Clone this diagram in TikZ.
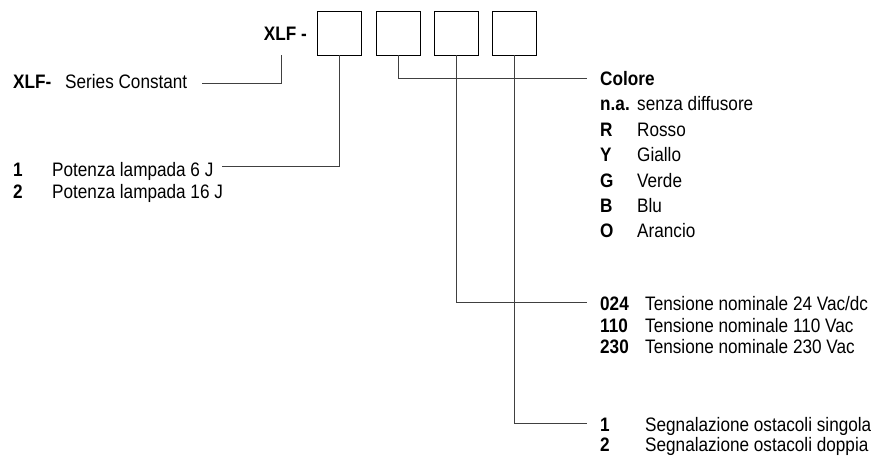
\documentclass[tikz,border=0pt]{standalone}
\usepackage{fontspec}
\setmainfont{Liberation Sans}[FakeStretch=0.88]
\begin{document}
\begin{tikzpicture}[x=1pt,y=-1pt,
  txt/.style={anchor=base west,inner sep=0pt,font=\fontsize{19.5}{22}\selectfont,text=black},
  btxt/.style={txt,font=\fontsize{19.5}{22}\selectfont\bfseries},
  codebox/.style={draw=black,line width=0.9pt,minimum width=44pt,minimum height=44pt,inner sep=0pt},
  conn/.style={draw=black!75,line width=0.8pt}]
\useasboundingbox (0,0) rectangle (871,459);
\fill[white] (0,0) rectangle (871,459);
% header
\node[btxt,anchor=base east] (xlf) at (307,40) {XLF -};
\node[codebox] (b1) at (339.5,33) {};
\node[codebox] (b2) at (398,33) {};
\node[codebox] (b3) at (456.5,33) {};
\node[codebox] (b4) at (514.8,33) {};
% left texts
\node[btxt] (sxlf) at (13,88.3) {XLF-};
\node[txt] (series) at (65,88.3) {Series Constant};
\node[btxt] (p1k) at (13,176) {1};
\node[txt] (p1) at (52,176) {Potenza lampada 6 J};
\node[btxt] (p2k) at (13,198) {2};
\node[txt] (p2) at (52,198) {Potenza lampada 16 J};
% colour list
\node[btxt] (colore) at (600,85) {Colore};
\node[btxt] (nak) at (600,110) {n.a.};
\node[txt] (na) at (637,110) {senza diffusore};
\node[btxt] (rk) at (600,136) {R};
\node[txt] (r) at (637,136) {Rosso};
\node[btxt] (yk) at (600,161.7) {Y};
\node[txt] (y) at (637,161.7) {Giallo};
\node[btxt] (gk) at (600,187) {G};
\node[txt] (g) at (637,187) {Verde};
\node[btxt] (bk) at (600,212.2) {B};
\node[txt] (bl) at (637,212.2) {Blu};
\node[btxt] (ok) at (600,237.5) {O};
\node[txt] (o) at (637,237.5) {Arancio};
% voltage list
\node[btxt] (v1k) at (600,310) {024};
\node[txt] (v1) at (645,310) {Tensione nominale 24 Vac/dc};
\node[btxt] (v2k) at (600,332) {110};
\node[txt] (v2) at (645,332) {Tensione nominale 110 Vac};
\node[btxt] (v3k) at (600,353.5) {230};
\node[txt] (v3) at (645,353.5) {Tensione nominale 230 Vac};
% signalling list
\node[btxt] (s1k) at (600,431) {1};
\node[txt] (s1) at (645,431) {Segnalazione ostacoli singola};
\node[btxt] (s2k) at (600,451) {2};
\node[txt] (s2) at (645,451) {Segnalazione ostacoli doppia};
% connector ends
\coordinate (sTop) at (281,55);
\coordinate (sEnd) at (202,83);
\coordinate (pEnd) at (222,166);
\coordinate (cEnd) at (587,78);
\coordinate (vEnd) at (587,302);
\coordinate (gEnd) at (587,423);
% connectors
\draw[conn] (sTop) |- (sEnd);
\draw[conn] (b1.south) |- (pEnd);
\draw[conn] (b2.south) |- (cEnd);
\draw[conn] (b3.south) |- (vEnd);
\draw[conn] (b4.south) |- (gEnd);
\end{tikzpicture}
\end{document}
